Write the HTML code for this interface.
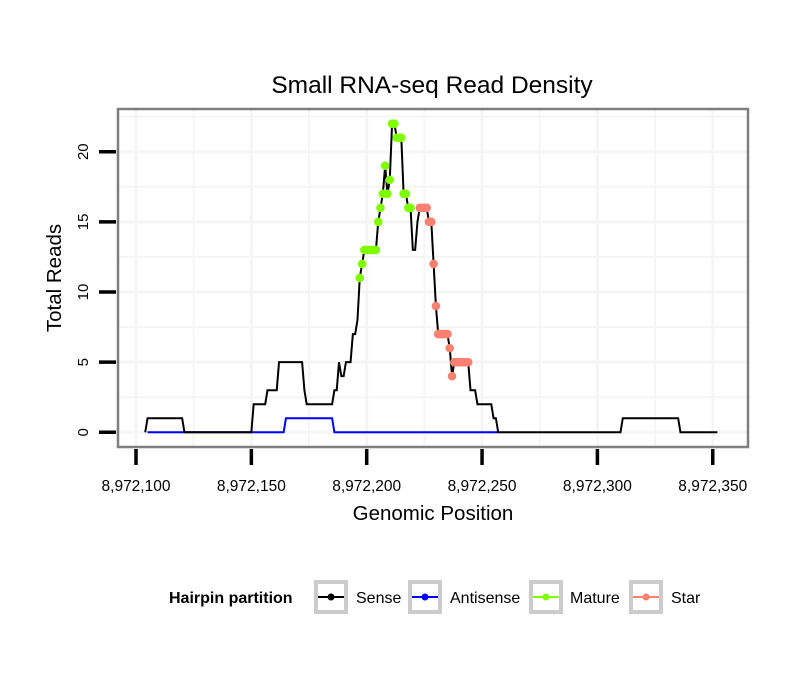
<!DOCTYPE html>
<html><head><meta charset="utf-8"><style>
body{margin:0;background:#fff;}
svg text{font-family:"Liberation Sans",Arial,sans-serif;}
</style></head><body>
<svg id="chart" width="810" height="690" xmlns="http://www.w3.org/2000/svg">
<rect width="810" height="690" fill="#fff"/>
<text x="432" y="93" text-anchor="middle" font-size="24.5">Small RNA-seq Read Density</text>
<g id="grid"></g>
<g id="series"></g>
<rect x="118" y="109" width="630" height="338" fill="none" stroke="#7f7f7f" stroke-width="2.5"/>
<g id="axes"></g>
<text x="433" y="520" text-anchor="middle" font-size="20.5">Genomic Position</text>
<text transform="translate(61,278) rotate(-90)" text-anchor="middle" font-size="20.5">Total Reads</text>
<g>
<text x="169" y="603" font-size="16" font-weight="bold">Hairpin partition</text>
<g id="legend"></g>
</g>
</svg>
<script>
const x0Pos = 8972100;
const xTicks = [8972100, 8972150, 8972200, 8972250, 8972300, 8972350];
const xTickLabels = ["8,972,100","8,972,150","8,972,200","8,972,250","8,972,300","8,972,350"];
const yTicks = [0, 5, 10, 15, 20];
// positions are offsets from 8,972,000
const posBase = 8972000;
const sensePos = [104,105,120,121,150,151,156,157,161,162,172,173,174,185,186,187,188,189,190,191,193,194,195,196,197,198,199,200,201,202,203,204,205,206,207,208,209,210,211,212,213,214,215,216,217,218,219,220,221,222,223,224,225,226,227,228,229,230,231,232,233,234,235,236,237,238,239,240,241,242,243,244,245,246,247,248,254,255,256,257,310,311,335,336,352];
const senseVal = [0,1,1,0,0,2,2,3,3,5,5,3,2,2,3,3,5,4,4,5,5,7,7,8,11,12,13,13,13,13,13,13,15,16,17,19,17,18,22,22,21,21,21,17,17,16,16,13,13,15,16,16,16,16,15,15,12,9,7,7,7,7,7,6,4,5,5,5,5,5,5,5,3,3,3,2,2,1,1,0,0,1,1,0,0];
const antiPos = [105,164,165,185,186,257];
const antiVal = [0,0,1,1,0,0];
const matureStart = 197, matureEnd = 219;
const starStart = 223, starEnd = 244;

const NS = "http://www.w3.org/2000/svg";
function X(p){ return 136 + (p - x0Pos) * 2.307; }
function XR(p){ return X(posBase + p); }
function Y(v){ return 432.3 - v * 14.03; }
function mk(tag, attrs, parent){ const e=document.createElementNS(NS,tag); for(const k in attrs) e.setAttribute(k,attrs[k]); parent.appendChild(e); return e; }
const grid=document.getElementById('grid'), series=document.getElementById('series'), axes=document.getElementById('axes'), legend=document.getElementById('legend');

for(let i=0;i<12;i++){
  const xx=X(x0Pos + i*25);
  if(xx<120||xx>746) continue;
  const l=mk('line',{x1:xx,x2:xx,y1:110,y2:446,stroke:'#f5f5f5','stroke-width':i%2? 2:3},grid);
  
  
}
for(let v=0; v<=22.5; v+=2.5){
  const l=mk('line',{x1:119,x2:747,y1:Y(v),y2:Y(v),stroke:'#f5f5f5','stroke-width':(v%5===0)?3:2},grid);
  
  
}
function interp(p){ for(let i=0;i<sensePos.length-1;i++){ if(p>=sensePos[i]&&p<=sensePos[i+1]){ const t=(p-sensePos[i])/((sensePos[i+1]-sensePos[i])||1); return senseVal[i]+t*(senseVal[i+1]-senseVal[i]); } } return 0; }
const anti=mk('polyline',{points:antiPos.map((p,i)=>XR(p)+','+Y(antiVal[i])).join(' '),fill:'none',stroke:'#0000ff','stroke-width':2},series);


const sense=mk('polyline',{points:sensePos.map((p,i)=>XR(p)+','+Y(senseVal[i])).join(' '),fill:'none',stroke:'#000','stroke-width':2},series);


for(let p=matureStart;p<=matureEnd;p++){
  const c=mk('circle',{cx:XR(p),cy:Y(interp(p)),r:4.3,fill:'#7fff00'},series);
  
  
}
for(let p=starStart;p<=starEnd;p++){
  const c=mk('circle',{cx:XR(p),cy:Y(interp(p)),r:4.3,fill:'#fa8072'},series);
  
  
}
xTicks.forEach((t,i)=>{
  const l=mk('line',{x1:X(t),x2:X(t),y1:449,y2:465,stroke:'#000','stroke-width':3.5},axes);
  
  
  const tx=mk('text',{x:X(t),y:491,'text-anchor':'middle','font-size':15.5},axes);
  tx.textContent=xTickLabels[i];
  
  
});
yTicks.forEach(v=>{
  const l=mk('line',{x1:99,x2:116,y1:Y(v),y2:Y(v),stroke:'#000','stroke-width':3.5},axes);
  
  
  const tx=mk('text',{transform:`translate(88,${Y(v)}) rotate(-90)`,'text-anchor':'middle','font-size':15},axes);
  tx.textContent=String(v);
  
  
});
const legNames=['Sense','Antisense','Mature','Star'];
const legColors=['#000','#0000ff','#7fff00','#fa8072'];
const legBox=[314,408,529,629];
const legText=[356,450,570,671];
legNames.forEach((n,i)=>{
  const g=mk('g',{},legend);
  
  
  mk('rect',{x:legBox[i]+2,y:582,width:30,height:30,fill:'#fff',stroke:'#cccccc','stroke-width':4},g);
  mk('line',{x1:legBox[i]+4,x2:legBox[i]+30,y1:597,y2:597,stroke:legColors[i],'stroke-width':2},g);
  mk('circle',{cx:legBox[i]+17,cy:597,r:3.5,fill:legColors[i]},g);
  const t=mk('text',{x:legText[i],y:603,'font-size':16},g);
  t.textContent=n;
});
</script>
</body></html>
